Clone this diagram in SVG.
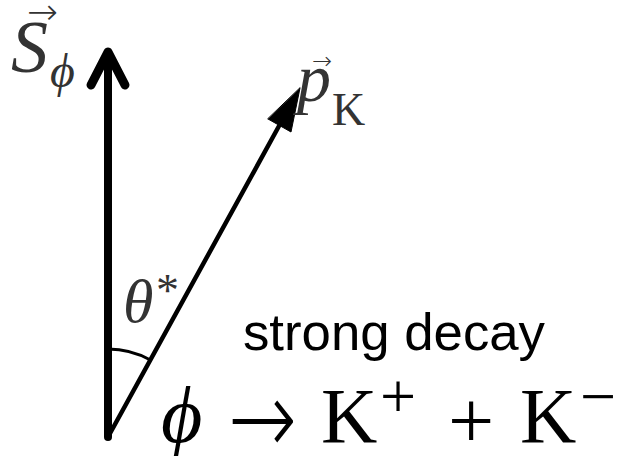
<svg xmlns="http://www.w3.org/2000/svg" width="621" height="456" viewBox="0 0 621 456">
<style>
.m{font-family:"Liberation Serif","DejaVu Serif",serif;fill:#000}
.d{font-family:"DejaVu Sans",sans-serif;font-weight:200;fill:#000}
.i{font-style:italic}
.g{fill:#333}
.s{font-family:"Liberation Sans",Arial,sans-serif;fill:#000}
</style>
<rect width="621" height="456" fill="#fff"/>
<g id="connectors" fill="none" stroke="#000" stroke-linecap="round" stroke-linejoin="round">
<line x1="108" y1="437" x2="108" y2="54" stroke-width="8"/>
<polyline points="91,85 108,52 125,85" stroke-width="9"/>
<line x1="108" y1="437" x2="279" y2="126" stroke-width="4.5"/>
<polygon points="300,88 291,132 268,119" fill="#000" stroke-width="1"/>
<path d="M108,349 A88,88 0 0 1 150.4,360" stroke-width="3"/>
</g>
<g id="label-S">
<text class="d g" x="27" y="24" font-size="36" textLength="31" lengthAdjust="spacingAndGlyphs">→</text>
<text class="m i g" x="11" y="72" font-size="74">S</text>
<text class="m i g" x="50" y="87" font-size="48">ϕ</text>
</g>
<g id="label-p">
<text class="d g" x="312" y="69" font-size="24" textLength="20" lengthAdjust="spacingAndGlyphs">→</text>
<text class="m i g" x="297" y="101" font-size="68">p</text>
<text class="m g" x="332" y="125" font-size="46">K</text>
</g>
<g id="label-theta">
<text class="m i g" x="123" y="322" font-size="62">θ</text>
<text class="m g" x="156" y="306" font-size="46">*</text>
</g>
<g id="label-decay">
<text class="s" x="243" y="350" font-size="52" textLength="302" lengthAdjust="spacingAndGlyphs">strong decay</text>
</g>
<g id="equation">
<text class="m i" x="161" y="442" font-size="80">ϕ</text>
<text class="d" x="228" y="454" font-size="104" textLength="69" lengthAdjust="spacingAndGlyphs">→</text>
<text class="m" x="321" y="442" font-size="78">K</text>
<text class="m" x="380" y="418" font-size="64">+</text>
<text class="m" x="448" y="448" font-size="82">+</text>
<text class="m" x="520" y="442" font-size="78">K</text>
<text class="m" x="580" y="418" font-size="64">−</text>
</g>
</svg>
